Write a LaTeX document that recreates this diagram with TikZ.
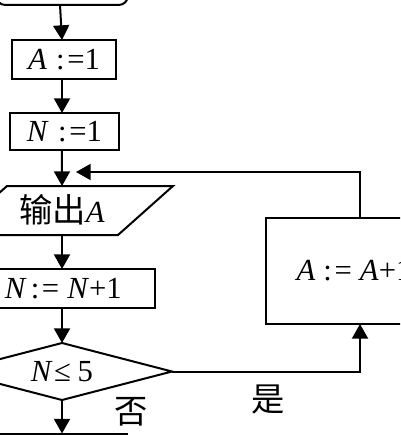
\documentclass[tikz,border=0pt]{standalone}
\usepackage{fontspec}
\setmainfont{Liberation Serif}
\newfontfamily\cjk{Noto Sans CJK SC}
\usetikzlibrary{arrows.meta,shapes.geometric}
\newcommand{\latsize}{\fontsize{23}{27}\selectfont}
\newcommand{\cjksize}{\cjk\fontsize{25}{27}\selectfont}
\tikzset{
  boxn/.style={draw,line width=1.5pt,inner sep=0pt,outer sep=0pt},
  arr/.style={line width=1.5pt,-{Triangle[width=12pt,length=11pt]}},
  ln/.style={line width=1.5pt},
  cjklab/.style={inner sep=0pt}
}
\newcommand{\mi}[1]{\textit{#1}}
\begin{document}
\begin{tikzpicture}[x=0.75pt,y=-0.75pt]
\useasboundingbox (0,0) rectangle (400,435);
\clip (0,0) rectangle (400,435);
% top start box
\node[boxn,rounded corners=7pt,minimum width=99pt,minimum height=30pt] (start) at (62,-15) {};
\node[boxn,minimum width=78pt,minimum height=29.25pt] (a1) at (64,59.5) {\latsize\mi{A}\hspace{7pt}:\hspace{2pt}=1};
\node[boxn,minimum width=81.75pt,minimum height=27.75pt] (n1) at (64.5,131.5) {\latsize\mi{N}\hspace{7pt}:\hspace{2pt}=1};
% output parallelogram
\draw[ln] (7,186) coordinate (ptl) -- (173,186) -- (118,235) -- (-48,235) -- cycle;
\node[inner sep=0pt] (out) at (62,210) {{\cjksize 输出}\latsize\mi{A}};
\coordinate (outtop) at (62,186);
\coordinate (outbot) at (62,235);
\coordinate (fbtip) at (76,172);
\node[boxn,minimum width=139.5pt,minimum height=29.25pt] (n2) at (62,288.5) {\latsize\hspace{2pt}\mi{N}\hspace{3pt}:\hspace{2pt}=\hspace{6pt}\mi{N}+1};
\node[draw,diamond,line width=1.5pt,inner sep=0pt,outer sep=0pt,aspect=3.8,minimum width=165pt,minimum height=42.75pt] (cond) at (62,371.5) {\latsize\mi{N}\hspace{1pt}≤\hspace{5pt}5};
\node[boxn,minimum width=126pt,minimum height=79.5pt] (ra) at (350,271) {\latsize\hspace{6pt}\mi{A}\hspace{6pt}:\hspace{2pt}=\hspace{6pt}\mi{A}+1};
\node[boxn,minimum width=97.5pt,minimum height=30pt] (next) at (62,453.5) {};
% connectors
\draw[arr] ([xshift=-1.5pt]start.south) -- ([xshift=-1.5pt]a1.north);
\draw[arr] ([xshift=-1.5pt]a1.south) -- ([xshift=-1.5pt]a1.south |- n1.north);
\draw[arr] ([xshift=-1.9pt]n1.south) -- (outtop);
\draw[arr] ([xshift=7.5pt]ra.north) |- (fbtip);
\draw[arr] (outbot) -- (n2.north);
\draw[arr] (n2.south) -- (cond.north);
\draw[arr] (cond.south) -- (next.north);
\draw[arr] (cond.east) -| ([xshift=7.5pt]ra.south);
% labels
\node[cjklab] (no) at (131,412) {\cjksize 否};
\node[cjklab] (yes) at (268,400) {\cjksize 是};
\end{tikzpicture}
\end{document}
